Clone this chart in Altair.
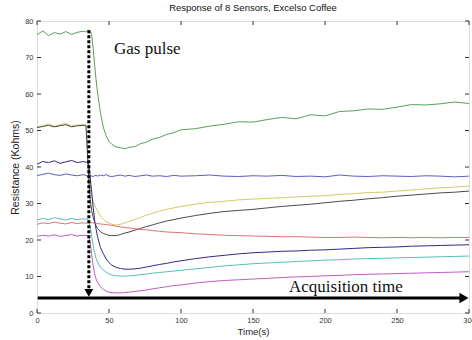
import altair as alt
import pandas as pd

time_s = [0, 4, 8, 12, 16, 20, 24, 28, 32, 34, 35, 36, 37, 38, 39, 40, 41, 42, 44, 46,
          48, 50, 52, 55, 58, 61, 64, 68, 72, 76, 80, 85, 90, 95, 100, 110, 120, 130, 140, 150,
          160, 170, 180, 190, 200, 210, 220, 230, 240, 250, 260, 270, 280, 290, 300]

s_green = [76.2, 77.3, 76.0, 76.8, 76.4, 77.1, 76.3, 76.9, 77.2, 77.0, 77.4, 77.5, 77.3,
           76.0, 72.5, 68.0, 64.0, 60.5, 55.0, 51.0, 48.5, 47.0, 46.2, 45.5, 45.3, 45.0, 45.4,
           45.6, 46.4, 46.8, 47.6, 48.1, 48.9, 49.4, 50.2,
           50.5, 51.2, 51.7, 52.4, 52.3, 53.0, 53.6, 53.2, 54.3, 54.0, 55.2, 55.4, 55.9, 55.8,
           56.4, 57.1, 57.0, 57.3, 57.8, 57.4]
s_yellow = [51.0, 51.3, 51.8, 51.2, 51.6, 51.9, 51.3, 51.5, 51.6, 51.5,
            45.0, 38.0, 34.0, 32.0, 30.6, 29.6, 28.8, 28.0, 26.6, 25.7, 25.0, 24.6, 24.3, 24.1,
            24.3, 24.7, 25.1, 25.6, 26.2, 26.8, 27.3, 27.9, 28.4, 28.8, 29.2,
            29.8, 30.3, 30.6, 31.0, 31.2, 31.4, 31.6, 31.8, 32.0, 32.1, 32.5, 32.7, 33.0, 33.1,
            33.4, 33.7, 34.0, 34.3, 34.5, 34.8]
s_dark = [50.8, 51.1, 51.4, 51.0, 51.3, 51.6, 51.0, 51.3, 51.4, 51.3,
          44.0, 36.0, 31.0, 28.0, 26.2, 25.0, 24.0, 23.2, 22.3, 21.8, 21.5, 21.3, 21.2, 21.2,
          21.5, 21.9, 22.2, 22.7, 23.2, 23.7, 24.1, 24.7, 25.2, 25.6, 26.0,
          26.7, 27.3, 27.8, 28.1, 28.4, 28.8, 29.2, 29.5, 29.8, 30.2, 30.6, 30.9, 31.3, 31.6,
          32.0, 32.3, 32.6, 32.9, 33.1, 33.4]
s_navy = [40.8, 41.5, 41.2, 41.7, 41.0, 41.4, 41.8, 41.2, 41.5, 41.3, 41.4, 40.5,
          37.0, 33.0, 29.0, 25.5, 23.0, 21.0, 18.0, 16.3, 14.8, 13.8, 13.1, 12.5, 12.2, 12.0,
          12.0, 12.1, 12.3, 12.6, 12.9, 13.3, 13.6, 14.0, 14.3,
          14.9, 15.4, 15.8, 16.2, 16.5, 16.7, 16.9, 17.0, 17.2, 17.3, 17.5, 17.7, 17.9, 18.0,
          18.1, 18.3, 18.4, 18.5, 18.6, 18.7]
s_blue = [37.6, 38.0, 38.3, 37.9, 37.7, 38.1, 37.8, 37.6, 37.9, 37.7,
          37.5, 37.6, 37.8, 37.5, 37.4, 37.6, 37.7, 37.5, 37.8, 37.6,
          37.9, 37.5, 37.4, 37.6, 37.8, 37.5, 37.7, 37.4, 37.6, 37.8,
          37.5, 37.6, 37.4, 37.7, 37.5, 37.6, 37.8, 37.5, 37.4, 37.6,
          37.5, 37.7, 37.4, 37.5, 37.3, 37.8, 37.5, 37.4, 37.6, 37.5,
          37.4, 37.6, 37.5, 37.3, 37.5]
s_cyan = [25.5, 25.9, 25.6, 26.1, 25.8, 25.5, 25.9, 25.6, 25.8, 25.7, 25.8, 25.2,
          23.5, 21.0, 18.5, 16.5, 15.0, 14.0, 12.6, 11.8, 11.2, 10.7, 10.4, 10.2, 10.1, 10.1,
          10.2, 10.3, 10.5, 10.7, 10.9, 11.1, 11.3, 11.5, 11.7,
          12.1, 12.5, 12.9, 13.2, 13.5, 13.7, 13.9, 14.1, 14.3, 14.5, 14.6, 14.8, 14.9, 15.0,
          15.1, 15.2, 15.3, 15.4, 15.5, 15.6]
s_red = [24.3, 24.7, 24.5, 24.9, 24.6, 24.4, 24.8, 24.5, 24.7, 24.6, 24.7, 24.8,
         24.8, 24.7, 24.7, 24.6, 24.6, 24.5, 24.4, 24.3, 24.2, 24.1, 24.0, 23.8, 23.6, 23.4,
         23.3, 23.1, 22.9, 22.8, 22.6, 22.4, 22.2, 22.1, 22.0,
         21.7, 21.5, 21.3, 21.2, 21.1, 21.0, 20.9, 20.9, 20.8, 20.7, 20.7, 20.8, 20.7, 20.6,
         20.7, 20.6, 20.7, 20.6, 20.7, 20.7]
s_magenta = [21.0, 21.3, 21.1, 21.4, 21.0, 21.2, 21.5, 21.1, 21.3, 21.2, 21.2, 20.8,
             19.0, 16.0, 13.0, 10.8, 9.3, 8.5, 7.2, 6.5, 6.0, 5.7, 5.6, 5.5, 5.5, 5.6,
             5.7, 5.9, 6.1, 6.3, 6.6, 6.9, 7.2, 7.5, 7.7,
             8.2, 8.6, 8.9, 9.1, 9.3, 9.5, 9.7, 9.9, 10.0, 10.2, 10.3, 10.5, 10.6, 10.7,
             10.8, 10.9, 11.0, 11.1, 11.2, 11.3]

sensor_names = ["S1", "S2", "S3", "S4", "S5", "S6", "S7", "S8"]
sensor_series = [s_green, s_yellow, s_dark, s_navy, s_blue, s_cyan, s_red, s_magenta]
sensor_colors = ["#5a9e5a", "#d2cd66", "#4a4a4a", "#2c2c86", "#5c5cc8", "#55c0b6", "#e07070", "#c25cc2"]

y_ticks = [0, 10, 20, 30, 40, 50, 60, 70, 80]
x_ticks = [0, 50, 100, 150, 200, 250, 300]

rows = []
for name, vals in zip(sensor_names, sensor_series):
    assert len(vals) == len(time_s), (name, len(vals))
    for t, v in zip(time_s, vals):
        rows.append({"t": t, "v": v, "sensor": name})
df = pd.DataFrame(rows)

W, H = 432, 292
xs = alt.Scale(domain=[0, 300], nice=False, zero=False)
ys = alt.Scale(domain=[0, 80], nice=False)
FONT = "Liberation Sans"

x_axis = alt.Axis(values=x_ticks, ticks=False, domain=False, grid=False, labelFlush=False,
                  labelFontSize=7.5, labelColor="#333", labelPadding=3, labelFont=FONT,
                  titleFont=FONT, titleFontSize=9.5, titleFontWeight="normal",
                  titleColor="#222", titlePadding=3)
y_axis = alt.Axis(values=y_ticks, ticks=False, domain=False, grid=False, labelFlush=False,
                  labelFontSize=7.5, labelColor="#333", labelPadding=4, labelFont=FONT,
                  titleFont=FONT, titleFontSize=10.5, titleFontWeight="normal",
                  titleColor="#222", titlePadding=4)
X_TITLE = "Time(s)"
Y_TITLE = "Resistance (Kohms)"


def X(field):
    return alt.X(field, scale=xs, axis=x_axis, title=X_TITLE)


def Y(field):
    return alt.Y(field, scale=ys, axis=y_axis, title=Y_TITLE)


lines = alt.Chart(df).mark_line(strokeWidth=1, clip=True).encode(
    x=X("t:Q"), y=Y("v:Q"),
    color=alt.Color("sensor:N", scale=alt.Scale(domain=sensor_names, range=sensor_colors), legend=None),
)

ydf = pd.DataFrame({"v": y_ticks})
xdf = pd.DataFrame({"t": x_ticks})
tick_style = dict(color="#333", strokeWidth=1)
left_t = alt.Chart(ydf).mark_rule(**tick_style).encode(
    y=Y("v:Q"), x=alt.value(0), x2=alt.value(4))
right_t = alt.Chart(ydf).mark_rule(**tick_style).encode(
    y=Y("v:Q"), x=alt.value(W - 4), x2=alt.value(W))
bottom_t = alt.Chart(xdf).mark_rule(**tick_style).encode(
    x=X("t:Q"), y=alt.value(H), y2=alt.value(H - 4))
top_t = alt.Chart(xdf).mark_rule(**tick_style).encode(
    x=X("t:Q"), y=alt.value(0), y2=alt.value(4))

# annotations
pulse_t = 36
vline = alt.Chart(pd.DataFrame({"t": [pulse_t], "a": [77.5], "b": [6.0]})).mark_rule(
    color="black", strokeWidth=3, strokeDash=[3, 2]).encode(
    x=X("t:Q"), y=Y("a:Q"), y2="b:Q")
vhead = alt.Chart(pd.DataFrame({"t": [pulse_t], "v": [5.5]})).mark_point(
    shape="triangle-down", filled=True, color="black", opacity=1, size=80).encode(
    x=X("t:Q"), y=Y("v:Q"))
hline = alt.Chart(pd.DataFrame({"a": [0.5], "b": [294.0], "v": [4.1]})).mark_rule(
    color="black", strokeWidth=3).encode(
    x=X("a:Q"), x2="b:Q", y=Y("v:Q"))
hhead = alt.Chart(pd.DataFrame({"t": [296.5], "v": [4.1]})).mark_point(
    shape="triangle-right", filled=True, color="black", opacity=1, size=110).encode(
    x=X("t:Q"), y=Y("v:Q"))

labels = alt.Chart(pd.DataFrame({
    "t": [53.5, 175.0], "v": [72.2, 7.2], "txt": ["Gas pulse", "Acquisition time"]
})).mark_text(align="left", baseline="middle", font="Liberation Serif", fontSize=17,
              color="#111").encode(
    x=X("t:Q"), y=Y("v:Q"), text="txt:N")

chart = alt.layer(
    lines, left_t, right_t, bottom_t, top_t, vline, vhead, hline, hhead, labels
).properties(
    width=W, height=H,
    title=alt.TitleParams("Response of 8 Sensors, Excelso Coffee", font=FONT, fontSize=9.5,
                          fontWeight="normal", color="#111", anchor="middle", offset=5),
    autosize=alt.AutoSizeParams(type="none"),
    padding={"left": 37, "top": 21, "right": 3, "bottom": 27},
).configure_view(stroke="#444", strokeWidth=1).configure(background="white")

chart.save("out.html", embed_options={"renderer": "svg", "actions": False})
